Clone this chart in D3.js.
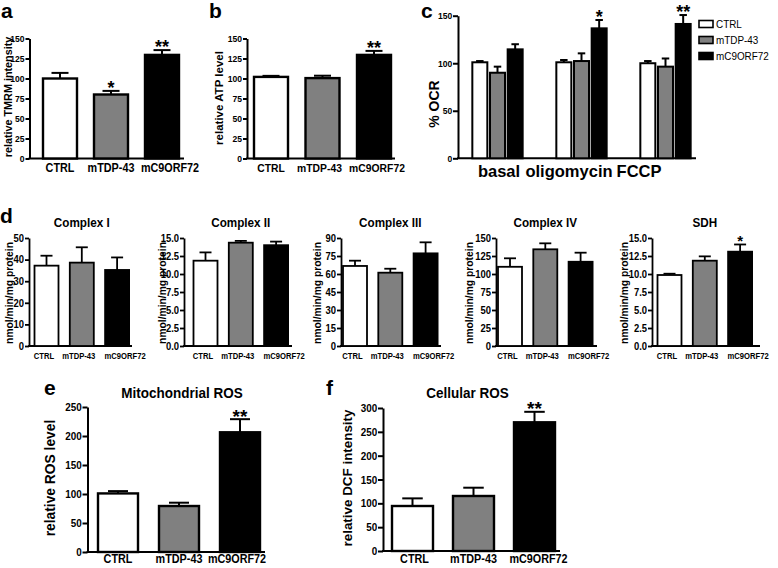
<!DOCTYPE html>
<html><head><meta charset="utf-8">
<script src="https://cdn.jsdelivr.net/npm/d3@7"></script>
<style>
body{margin:0;background:#fff}
svg{display:block}
text{font-family:"Liberation Sans",Arial,Helvetica,sans-serif}
</style>
</head><body>
<svg id="fig" width="778" height="568"></svg>
<script>
// ---------------- DATA ----------------
const groups = ["CTRL", "mTDP-43", "mC9ORF72"];
const groupColors = ["#ffffff", "#808080", "#000000"];

// a: TMRM
const tmrmMean = [100, 80, 129.5];
const tmrmErr = [7, 4.5, 6];
const tmrmSig = ["", "*", "**"];
const tmrmTicks = [0, 25, 50, 75, 100, 125, 150];
const tmrmTickLabels = ["0", "25", "50", "75", "100", "125", "150"];

// b: ATP
const atpMean = [102, 100.5, 129.5];
const atpErr = [1.3, 3, 5];
const atpSig = ["", "", "**"];
const atpTicks = [0, 25, 50, 75, 100, 125, 150];
const atpTickLabels = ["0", "25", "50", "75", "100", "125", "150"];

// c: OCR
const ocrConditions = ["basal", "oligomycin", "FCCP"];
const ocrCTRL = [101, 101, 100];
const ocrCTRLErr = [1.3, 2.4, 2.3];
const ocrTDP = [90, 102.3, 96.4];
const ocrTDPErr = [6.4, 8.1, 8.6];
const ocrC9 = [114.6, 136.7, 141.3];
const ocrC9Err = [5.4, 8.8, 9.4];
const ocrC9Sig = ["", "*", "**"];
const ocrTicks = [0, 50, 100, 150];
const ocrTickLabels = ["0", "50", "100", "150"];

// d: complexes
const complexNames = ["Complex I", "Complex II", "Complex III", "Complex IV", "SDH"];
const complexMax = [50, 15, 90, 150, 15];
const complexTicks = [
  [0, 10, 20, 30, 40, 50],
  [0, 2.5, 5, 7.5, 10, 12.5, 15],
  [0, 15, 30, 45, 60, 75, 90],
  [0, 25, 50, 75, 100, 125, 150],
  [0, 2.5, 5, 7.5, 10, 12.5, 15]
];
const complexTickLabels = [
  ["0", "10", "20", "30", "40", "50"],
  ["0.0", "2.5", "5.0", "7.5", "10.0", "12.5", "15.0"],
  ["0", "15", "30", "45", "60", "75", "90"],
  ["0", "25", "50", "75", "100", "125", "150"],
  ["0.0", "2.5", "5.0", "7.5", "10.0", "12.5", "15.0"]
];
const complexCTRL = [37.2, 11.85, 66.7, 110, 9.86];
const complexCTRLErr = [4.6, 1.15, 4.4, 11.8, 0.18];
const complexTDP = [38.6, 14.35, 61.1, 134.3, 11.85];
const complexTDPErr = [7.1, 0.25, 3.3, 8.3, 0.6];
const complexC9 = [35.2, 14.0, 77.2, 117, 13.1];
const complexC9Err = [5.8, 0.5, 9.2, 12.6, 1.0];
const complexC9Sig = ["", "", "", "", "*"];

// e: mitochondrial ROS
const mitoRosMean = [101, 79.3, 206.4];
const mitoRosErr = [4, 5.7, 22.6];
const mitoRosSig = ["", "", "**"];
const mitoRosTicks = [0, 50, 100, 150, 200, 250];
const mitoRosTickLabels = ["0", "50", "100", "150", "200", "250"];

// f: cellular ROS
const cellRosMean = [94.4, 115.4, 270];
const cellRosErr = [16, 17.4, 22];
const cellRosSig = ["", "", "**"];
const cellRosTicks = [0, 50, 100, 150, 200, 250, 300];
const cellRosTickLabels = ["0", "50", "100", "150", "200", "250", "300"];

// ---------------- DRAWING ----------------
const FONT = '"Liberation Sans", Arial, Helvetica, sans-serif';
const SX = 0.9;
const svg = d3.select("#fig");
svg.append("rect").attr("width", 778).attr("height", 568).attr("fill", "#fff");

function label(parent, x, y, s, size, o = {}) {
  const t = parent.append("text").text(s)
    .attr("font-size", size)
    .attr("font-weight", o.weight || "bold")
    .attr("text-anchor", o.anchor || "middle")
    .attr("fill", "#000");
  if (o.rotate) {
    t.attr("transform", `translate(${x},${y}) rotate(-90)`).attr("dy", "0.35em");
  } else {
    const sx = o.sx === undefined ? SX : o.sx;
    t.attr("transform", `translate(${x},${y}) scale(${sx},1)`);
  }
  return t;
}

function axes(g, y, P) {
  const ax = g.append("g").attr("transform", `translate(${P.axisX},0)`)
    .call(d3.axisLeft(y).tickValues(P.ticks).tickFormat((d, i) => P.tickLabels[i])
      .tickSize(P.tickLen).tickSizeOuter(0).tickPadding(P.tickPad));
  ax.attr("font-family", null).attr("font-size", null);
  ax.select(".domain").attr("stroke", "#000").attr("stroke-width", P.axisW);
  ax.selectAll(".tick line").attr("stroke", "#000").attr("stroke-width", P.axisW);
  ax.selectAll(".tick text")
    .attr("font-size", P.tickFont).attr("font-weight", "bold")
    .attr("font-family", FONT).attr("fill", "#000")
    .attr("transform", `scale(${SX},1)`);
  g.append("line")
    .attr("x1", P.axisX - P.axisW / 2).attr("x2", P.axisEnd)
    .attr("y1", y(0)).attr("y2", y(0))
    .attr("stroke", "#000").attr("stroke-width", P.axisW);
}

function bars(g, x, y, keys, means, errs, sig, fills, P) {
  const bw = x.bandwidth();
  const data = keys.map((k, i) => ({ k, m: means[i], e: errs[i], s: sig[i], f: fills[i] }));
  const cap = bw * (P.capFrac || 0.5);
  const eb = g.append("g").selectAll("g").data(data).join("g");
  eb.append("line")
    .attr("x1", d => x(d.k) + bw / 2).attr("x2", d => x(d.k) + bw / 2)
    .attr("y1", d => y(d.m)).attr("y2", d => y(d.m + d.e))
    .attr("stroke", "#000").attr("stroke-width", P.errW);
  eb.append("line")
    .attr("x1", d => x(d.k) + bw / 2 - cap / 2).attr("x2", d => x(d.k) + bw / 2 + cap / 2)
    .attr("y1", d => y(d.m + d.e)).attr("y2", d => y(d.m + d.e))
    .attr("stroke", "#000").attr("stroke-width", P.errW);
  g.append("g").selectAll("rect").data(data).join("rect")
    .attr("x", d => x(d.k)).attr("width", bw)
    .attr("y", d => y(d.m)).attr("height", d => y(0) - y(d.m))
    .attr("fill", d => d.f).attr("stroke", "#000").attr("stroke-width", P.barW);
  g.append("g").selectAll("text").data(data.filter(d => d.s)).join("text")
    .attr("x", d => x(d.k) + bw / 2).attr("y", d => y(d.m + d.e) + P.starDy)
    .attr("text-anchor", "middle").attr("font-weight", "bold")
    .attr("font-size", P.starFont).attr("fill", "#000")
    .text(d => d.s);
}

function bandFor(keys, c0, step, barWidth) {
  const pi = 1 - barWidth / step;
  return d3.scaleBand().domain(keys)
    .range([c0 - step / 2, c0 + (keys.length - 0.5) * step])
    .paddingInner(pi).paddingOuter(pi / 2);
}

function simplePanel(P) {
  const g = svg.append("g");
  const y = d3.scaleLinear().domain([0, P.max]).range([P.y0, P.yTop]);
  const x = bandFor(groups, P.c0, P.step, P.barWidth);
  axes(g, y, P);
  bars(g, x, y, groups, P.means, P.errs, P.sig, groupColors, P);
  groups.forEach((k, i) => label(g, x(k) + x.bandwidth() / 2 + (P.xDx ? P.xDx[i] : 0), P.xLabelY, k, P.xFont));
  label(g, P.yLabelX, P.yLabelY, P.yLabel, P.yLabelFont, { rotate: true });
  if (P.title) label(g, P.titleX, P.titleY, P.title, P.titleFont);
  if (P.letter) label(g, P.letterX, P.letterY, P.letter, P.letterFont || 21, { anchor: "start", sx: 1 });
  return { g, x, y };
}

// ---- a ----
simplePanel({
  means: tmrmMean, errs: tmrmErr, sig: tmrmSig, max: 150, ticks: tmrmTicks, tickLabels: tmrmTickLabels,
  axisX: 29.5, axisEnd: 184, y0: 158.5, yTop: 38.5, c0: 60, step: 51, barWidth: 34,
  tickLen: 4, tickPad: 1.5, tickFont: 9.5, axisW: 2, barW: 2.4, errW: 2, starFont: 18, starDy: 3,
  xFont: 12, xDx: [0, 0, 8], xLabelY: 172, yLabel: "relative TMRM intensity", yLabelX: 8, yLabelY: 97, yLabelFont: 10.8,
  letter: "a", letterX: 1, letterY: 18
});

// ---- b ----
simplePanel({
  means: atpMean, errs: atpErr, sig: atpSig, max: 150, ticks: atpTicks, tickLabels: atpTickLabels,
  axisX: 247, axisEnd: 395, y0: 158.5, yTop: 38.5, c0: 271, step: 51.5, barWidth: 34,
  tickLen: 4, tickPad: 1.5, tickFont: 9.5, axisW: 2, barW: 2.4, errW: 2, starFont: 18, starDy: 3,
  xFont: 11.5, xDx: [0, -3, 3], xLabelY: 172, yLabel: "relative ATP level", yLabelX: 219, yLabelY: 98, yLabelFont: 11.5,
  letter: "b", letterX: 209, letterY: 18
});

// ---- c ----
(function () {
  const P = { axisX: 458, axisEnd: 696, y0: 158.3, yTop: 15.7, ticks: ocrTicks, tickLabels: ocrTickLabels,
    tickLen: 5, tickPad: 1.5, tickFont: 9.5, axisW: 2, barW: 2, errW: 2, starFont: 18, starDy: 3 };
  const g = svg.append("g");
  const y = d3.scaleLinear().domain([0, 150]).range([P.y0, P.yTop]);
  const groupW = 53;
  const outer = bandFor(ocrConditions, 497.5, 84, groupW);
  const inner = bandFor(groups, groupW / 6, groupW / 3, 15);
  axes(g, y, P);
  ocrConditions.forEach((c, j) => {
    const gg = g.append("g").attr("transform", `translate(${outer(c)},0)`);
    bars(gg, inner, y, groups,
      [ocrCTRL[j], ocrTDP[j], ocrC9[j]],
      [ocrCTRLErr[j], ocrTDPErr[j], ocrC9Err[j]],
      ["", "", ocrC9Sig[j]], groupColors, P);
  });
  const lab = d3.scalePoint().domain(ocrConditions).range([499, 639]);
  ocrConditions.forEach(c => label(g, lab(c), 176.5, c, 16.5, { sx: 1 }));
  label(g, 434, 104, "% OCR", 14, { rotate: true });
  label(g, 421, 18, "c", 21, { anchor: "start", sx: 1 });
  const leg = g.append("g");
  groups.forEach((k, i) => {
    const cy = 24 + i * 16;
    leg.append("rect").attr("x", 699).attr("y", cy - 3.5).attr("width", 14).attr("height", 7)
      .attr("fill", groupColors[i]).attr("stroke", "#000").attr("stroke-width", 1.6);
    label(leg, 716, cy + 4.3, k, 11, { anchor: "start", weight: "normal" });
  });
})();

// ---- d ----
const dAxisX = [29, 184, 341, 496, 652];
const dC0 = [46.5, 205.5, 355, 510, 669.5];
const dEnd = [132, 292, 441, 597, 760];
const dYLabX = [9.5, 162.5, 317.5, 469.5, 624.5];
complexNames.forEach((name, j) => {
  simplePanel({
    means: [complexCTRL[j], complexTDP[j], complexC9[j]],
    errs: [complexCTRLErr[j], complexTDPErr[j], complexC9Err[j]],
    sig: ["", "", complexC9Sig[j]],
    max: complexMax[j], ticks: complexTicks[j], tickLabels: complexTickLabels[j],
    axisX: dAxisX[j], axisEnd: dEnd[j], y0: 346, yTop: 238, c0: dC0[j], step: 35.3, barWidth: 24,
    tickLen: 4, tickPad: 1.5, tickFont: 10.5, axisW: 1.8, barW: 1.8, errW: 1.8, starFont: 15, starDy: 2,
    xFont: 8.5, xDx: [-2.5, -3, 8], xLabelY: 359, yLabel: "nmol/min/mg protein", yLabelX: dYLabX[j], yLabelY: 293, yLabelFont: 10.3,
    title: name, titleX: dC0[j] + 35.3, titleY: 227, titleFont: 13,
    letter: j === 0 ? "d" : null, letterX: 0, letterY: 223
  });
});

// ---- e ----
simplePanel({
  means: mitoRosMean, errs: mitoRosErr, sig: mitoRosSig, max: 250, ticks: mitoRosTicks, tickLabels: mitoRosTickLabels,
  axisX: 87.5, axisEnd: 265, y0: 552, yTop: 407, c0: 118, step: 61, barWidth: 40,
  tickLen: 5, tickPad: 1.5, tickFont: 11, axisW: 2, barW: 2.4, errW: 2, starFont: 19, starDy: 3.5,
  xFont: 12, xDx: [0, 0, -3], xLabelY: 563, yLabel: "relative ROS level", yLabelX: 50, yLabelY: 478, yLabelFont: 13.8,
  title: "Mitochondrial ROS", titleX: 182, titleY: 398, titleFont: 15,
  letter: "e", letterX: 44, letterY: 395
});

// ---- f ----
simplePanel({
  means: cellRosMean, errs: cellRosErr, sig: cellRosSig, max: 300, ticks: cellRosTicks, tickLabels: cellRosTickLabels,
  axisX: 383, axisEnd: 560, y0: 551, yTop: 408, c0: 412.5, step: 61, barWidth: 41,
  tickLen: 5, tickPad: 1.5, tickFont: 11, axisW: 2, barW: 2.4, errW: 2, starFont: 19, starDy: 3.5,
  xFont: 12, xDx: [2, 0, 4], xLabelY: 563, yLabel: "relative DCF intensity", yLabelX: 347, yLabelY: 478, yLabelFont: 13.4,
  title: "Cellular ROS", titleX: 467.5, titleY: 398, titleFont: 15,
  letter: "f", letterX: 326, letterY: 395
});
</script>
</body></html>
